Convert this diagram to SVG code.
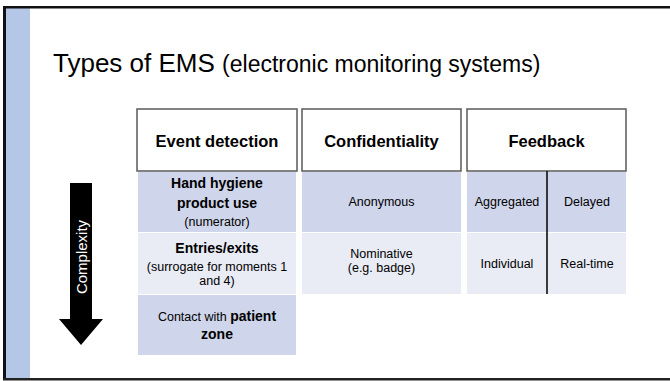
<svg xmlns="http://www.w3.org/2000/svg" width="670" height="381" viewBox="0 0 670 381">
<style>
text{font-family:"Liberation Sans",Arial,sans-serif;fill:#000}
.hdr{fill:#fff;stroke:#595959;stroke-width:1.5}
.dk{fill:#CFD5EA}
.lt{fill:#E9EBF5}
.h{font-size:16.5px;font-weight:bold;text-anchor:middle}
.b{font-size:14px;font-weight:bold;text-anchor:middle}
.s{font-size:12.5px;text-anchor:middle}
.c{font-size:12.5px;text-anchor:middle}
</style>
<rect x="0" y="0" width="670" height="381" fill="#fff"/>
<g id="frame">
<rect x="6" y="8" width="24" height="370" fill="#B4C7E7"/>
<rect x="3" y="6" width="667" height="2.5" fill="#111"/>
<rect x="3" y="6" width="3" height="374" fill="#111"/>
<rect x="3" y="378" width="667" height="2.5" fill="#222"/>
</g>
<g id="title">
<text x="53" y="72" font-size="26px" fill="#222">Types of EMS <tspan font-size="23px">(electronic monitoring systems)</tspan></text>
</g>
<g id="header-event">
<rect class="hdr" x="137" y="109" width="160" height="62"/>
<text class="h" x="217" y="147">Event detection</text>
</g>
<g id="header-confidentiality">
<rect class="hdr" x="302" y="109" width="159" height="62"/>
<text class="h" x="381.5" y="147">Confidentiality</text>
</g>
<g id="header-feedback">
<rect class="hdr" x="467" y="109" width="159" height="62"/>
<text class="h" x="546.5" y="147">Feedback</text>
</g>
<g id="event-row1">
<rect class="dk" x="138" y="172" width="158" height="60"/>
<text class="b" x="217" y="188">Hand hygiene</text>
<text class="b" x="217" y="208">product use</text>
<text class="s" x="217" y="226">(numerator)</text>
</g>
<g id="event-row2">
<rect class="lt" x="138" y="233" width="158" height="61"/>
<text class="b" x="217" y="253">Entries/exits</text>
<text class="s" x="217" y="271">(surrogate for moments 1</text>
<text class="s" x="217" y="285">and 4)</text>
</g>
<g id="event-row3">
<rect class="dk" x="138" y="295" width="158" height="60"/>
<text class="s" x="217" y="321"><tspan>Contact with </tspan><tspan font-weight="bold" font-size="14px">patient</tspan></text>
<text class="b" x="217" y="339">zone</text>
</g>
<g id="conf-row1">
<rect class="dk" x="302" y="172" width="159" height="60"/>
<text class="c" x="381.5" y="206">Anonymous</text>
</g>
<g id="conf-row2">
<rect class="lt" x="302" y="233" width="159" height="61"/>
<text class="c" x="381.5" y="258">Nominative</text>
<text class="c" x="381.5" y="272">(e.g. badge)</text>
</g>
<g id="feedback-row1">
<rect class="dk" x="467" y="172" width="159" height="60"/>
<text class="c" x="507" y="206">Aggregated</text>
<text class="c" x="587" y="206">Delayed</text>
</g>
<g id="feedback-row2">
<rect class="lt" x="467" y="233" width="159" height="61"/>
<text class="c" x="507" y="268">Individual</text>
<text class="c" x="587" y="268">Real-time</text>
</g>
<g id="connectors">
<line x1="547" y1="171" x2="547" y2="294" stroke="#000" stroke-width="1.5"/>
</g>
<g id="complexity-arrow">
<polygon points="70,183 92,183 92,319 103,319 81,345 59,319 70,319" fill="#000"/>
<text x="0" y="0" font-size="15px" text-anchor="middle" style="fill:#fff" transform="translate(86.5,257) rotate(-90)">Complexity</text>
</g>
</svg>
